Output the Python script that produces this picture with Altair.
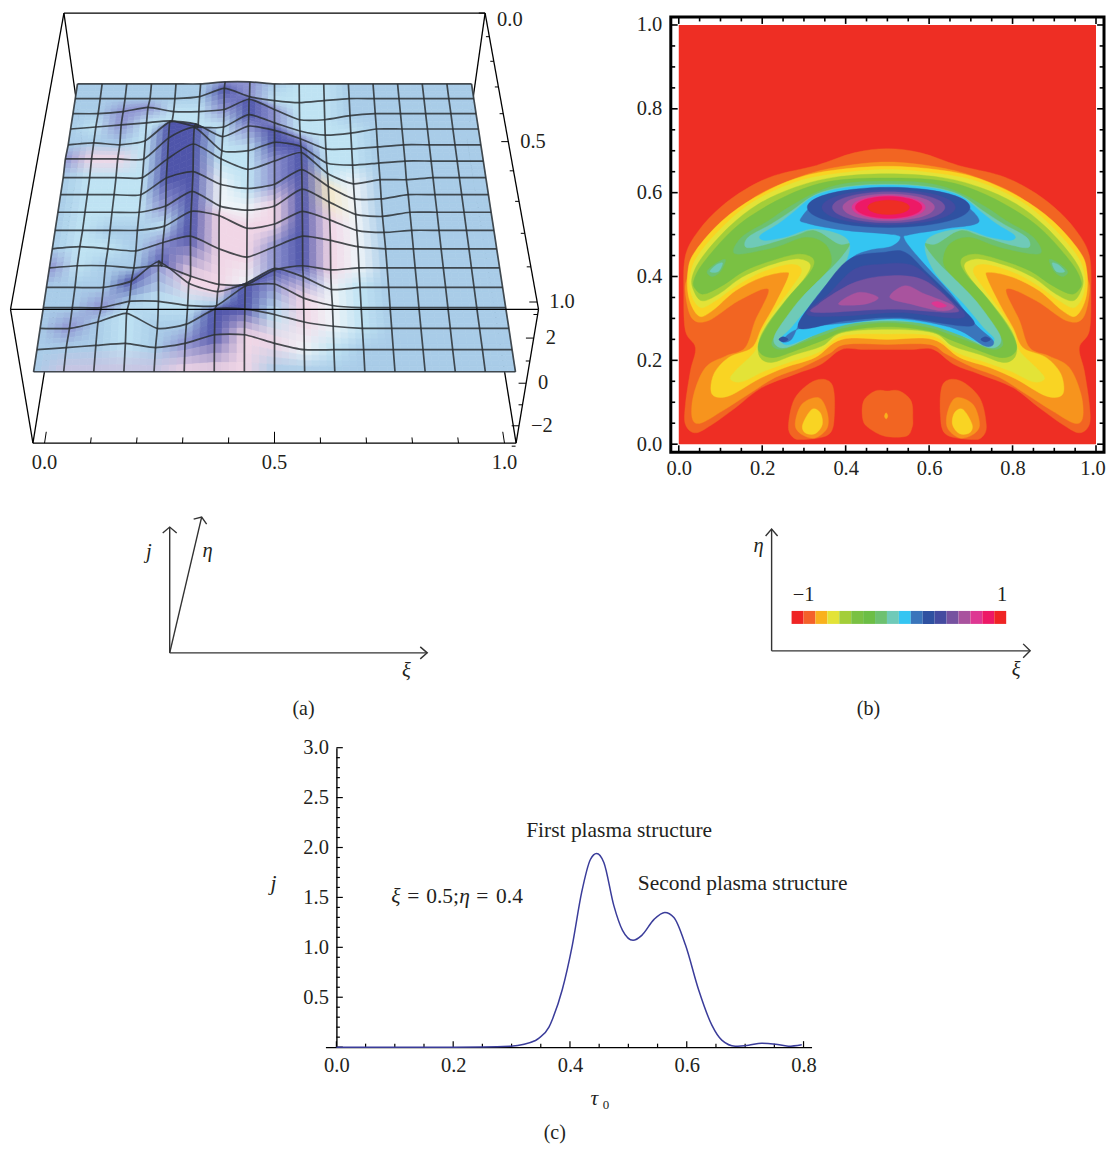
import numpy as np
import pandas as pd
import altair as alt

alt.data_transformers.disable_max_rows()

FONT = "Liberation Serif"
INK = "#231F20"
FS = 20.5
FS_NOTE = 21.5
FS_CAP = 20

# ---------- panel (a): surface heights j, rows from back (eta=0 label) to front, 17 columns
J_ROWS = [
    [0,0,0,0,0,0,.1,.1,0,0,0,0,0,0,0,0,0],
    [0,0,0,0,0,.1,.5,.1,-.1,-.2,-.1,0,0,0,0,0,0],
    [0,0,.1,.3,.1,.1,.2,.7,.2,-.3,-.3,-.1,0,0,0,0,0],
    [0,.1,.2,.3,.4,.1,.1,.7,.3,-.1,-.3,-.2,0,0,0,0,0],
    [0,.1,0,.2,1.1,1.0,.4,.9,.7,.3,-.2,-.2,-.1,0,0,0,0],
    [.1,.1,.1,.1,1.1,1.6,.5,.5,.9,.7,-.1,-.2,-.1,0,0,0,0],
    [0,0,0,0,.9,1.6,.9,.4,.8,1.2,.2,-.3,-.1,-.1,0,0,0],
    [0,0,0,0,.8,1.1,.5,.3,.5,1.2,.4,-.2,-.2,0,0,0,0],
    [0,0,0,0,.3,1.0,.3,.1,.3,1.1,.5,-.1,-.2,0,0,0,0],
    [0,0,0,0,.2,.9,.7,.1,.3,.9,.5,0,-.1,0,0,0,0],
    [0,.1,0,-.1,.3,.6,0,-.4,.1,.6,.4,.1,0,0,0,0,0],
    [0,.1,.1,0,.1,-.4,-.8,-.8,-.1,.1,-.1,0,0,0,0,0,0],
    [0,0,0,.3,1.2,.2,-.2,.2,.9,.5,-.1,0,0,0,0,0,0],
    [0,0,0,.3,.3,.1,.1,1.0,1.1,.45,.1,0,0,0,0,0,0],
    [0,0,.3,.7,0,.2,.9,.9,.65,.3,.1,0,0,0,0,0,0],
    [0,.1,.2,.3,.1,.3,.7,.7,.3,0,0,0,0,0,0,0,0],
    [0,0,0,0,0,0,0,0,0,0,0,0,0,0,0,0,0],
]
SHADE_ROWS = [
    "BBBBBBMMBCCBBBBBB",
    "BBBBBBDMCCCBBBBBB",
    "BBMMCCMDMCCBBBBBB",
    "BCMCCCCDMCCCBBBBB",
    "BBBCDDCMDMCCBBBBB",
    "MPPCDDCCDDCCBBBBB",
    "BCCCDDCCMDCWBBBBB",
    "BCCCDDWCMDYWBBBBB",
    "BCCCMDWWPDYWBBBBB",
    "BCBBCDPPPDPWBBBBB",
    "BCCBMDPPMDPWBBBBB",
    "MCBBDPPWMDPWBBBBB",
    "BBBDMPPDDMWCBBBBB",
    "BBMBCCBDMPWCBBBBB",
    "BMBCBBDDCPWCBBBBB",
    "BBBCBMDPPWCBBBBBB",
    "BLLLLPPPBBBBBBBBB",
]
SHADES = {"B": "#A9CCE8", "C": "#BFE3F3", "M": "#8E93D0", "D": "#4F55AA",
          "P": "#F1D6E6", "W": "#EFF4F8", "Y": "#F3E7C9", "L": "#C9C4E2"}
A_XI_LABELS = [0.0, 0.5, 1.0]
A_ETA_LABELS = [0.0, 0.5, 1.0]
A_J_LABELS = [-2, 0, 2]

# ---------- panel (b): filled contour outlines (xi, eta); left halves are mirrored about xi = 0.5
RED = "#EE2E24"
HALF_LEVELS = [
 ("#F26522", [(.5,.705),(.42,.695),(.33,.665),(.23,.641),(.16,.608),(.10,.565),(.048,.51),(.016,.45),(.012,.36),(.016,.27),(.04,.23),(.028,.175),(.016,.095),(.016,.047),(.04,.027),(.08,.047),(.136,.087),(.199,.135),(.279,.167),(.34,.19),(.39,.226),(.44,.226),(.5,.226)]),
 ("#F7941D", [(.5,.673),(.375,.66),(.279,.634),(.183,.59),(.12,.53),(.056,.46),(.022,.40),(.016,.36),(.032,.30),(.072,.295),(.143,.342),(.215,.37),(.183,.294),(.159,.23),(.112,.21),(.064,.183),(.036,.119),(.032,.063),(.052,.05),(.104,.079),(.167,.119),(.231,.159),(.295,.183),(.359,.215),(.399,.238),(.5,.238)]),
 ("#F9D423", [(.5,.663),(.375,.654),(.279,.633),(.183,.589),(.104,.533),(.04,.461),(.022,.414),(.024,.35),(.048,.306),(.08,.318),(.136,.366),(.199,.398),(.255,.41),(.262,.398),(.231,.334),(.199,.278),(.175,.23),(.12,.207),(.084,.167),(.08,.119),(.12,.115),(.191,.155),(.255,.183),(.327,.207),(.391,.25),(.5,.25)]),
 ("#E3E337", [(.5,.655),(.375,.645),(.279,.625),(.183,.581),(.112,.525),(.048,.453),(.028,.405),(.03,.358),(.052,.326),(.088,.342),(.143,.381),(.207,.414),(.271,.43),(.295,.414),(.271,.374),(.223,.31),(.195,.262),(.183,.222),(.136,.175),(.124,.155),(.151,.149),(.207,.175),(.263,.195),(.335,.219),(.391,.258),(.5,.263)]),
 ("#A3CE39", [(.5,.645),(.375,.637),(.279,.613),(.191,.573),(.12,.518),(.056,.446),(.032,.398),(.036,.366),(.056,.342),(.096,.358),(.151,.398),(.215,.426),(.279,.442),(.315,.43),(.303,.398),(.255,.342),(.207,.278),(.191,.238),(.195,.207),(.223,.195),(.279,.214),(.343,.234),(.391,.266),(.5,.274)]),
 ("#7AC143", [(.5,.635),(.375,.629),(.287,.605),(.199,.561),(.128,.51),(.06,.434),(.036,.39),(.04,.37),(.06,.358),(.104,.378),(.159,.414),(.223,.438),(.287,.454),(.323,.442),(.315,.41),(.263,.35),(.215,.286),(.191,.238),(.199,.214),(.231,.207),(.287,.226),(.351,.25),(.399,.27),(.5,.28)]),
 ("#6DC170", [(.5,.627),(.399,.622),(.327,.6),(.263,.565),(.215,.533),(.151,.494),(.136,.454),(.231,.47),(.303,.494),(.351,.478),(.367,.438),(.351,.406),(.303,.358),(.287,.326),(.239,.27),(.223,.238),(.247,.226),(.295,.242),(.351,.262),(.399,.278),(.5,.29)]),
 ("#6FCAB8", [(.5,.62),(.399,.614),(.327,.595),(.271,.557),(.223,.526),(.167,.494),(.161,.47),(.199,.474),(.279,.498),(.327,.51),(.383,.478),(.411,.478),(.383,.438),(.343,.398),(.295,.35),(.263,.31),(.231,.262),(.231,.238),(.255,.23),(.303,.25),(.359,.278),(.423,.29),(.5,.294)]),
 ("#34C5F2", [(.5,.618),(.399,.612),(.327,.593),(.279,.557),(.239,.526),(.195,.498),(.207,.486),(.255,.494),(.327,.514),(.407,.486),(.39,.414),(.318,.335),(.27,.278),(.244,.251),(.263,.237),(.32,.258),(.40,.285),(.5,.297)]),
]
LOBE_HALF_SHAPES = [
 ("#F26522", [(.263,.047),(.279,.111),(.327,.152),(.367,.143),(.373,.071),(.359,.023),(.295,.011),(.271,.019)]),
 ("#F7941D", [(.279,.047),(.295,.095),(.335,.111),(.355,.079),(.356,.039),(.327,.015),(.295,.023)]),
 ("#F9D423", [(.297,.047),(.319,.083),(.339,.075),(.344,.047),(.327,.025),(.303,.027)]),
 ("#6DC170", [(.068,.412),(.09,.432),(.112,.44),(.10,.412),(.08,.40)]),
 ("#6FCAB8", [(.075,.412),(.09,.428),(.105,.432),(.095,.412)]),
]
CENTER_LOBE = [(.5,.127),(.471,.127),(.443,.103),(.441,.06),(.455,.039),(.494,.019),(.545,.019),(.559,.039),(.561,.06),(.557,.103),(.529,.127)]
CENTER_DOT = [(.497,.075),(.493,.067),(.497,.06),(.501,.067)]
BLUE_MAIN = [(.294,.541),(.36,.595),(.502,.61),(.64,.597),(.72,.533),(.639,.514),(.555,.5),(.541,.489),(.581,.438),(.653,.359),(.71,.287),(.754,.246),(.734,.234),(.663,.275),(.531,.299),(.40,.289),(.287,.275),(.248,.246),(.27,.25),(.292,.294),(.328,.349),(.407,.438),(.455,.462),(.507,.471),(.53,.489),(.515,.5),(.40,.51),(.311,.526)]
LOWER_LEVELS = [
 ("#2F51A1", [(.494,.458),(.41,.442),(.343,.366),(.287,.278),(.398,.294),(.53,.302),(.701,.282),(.67,.334),(.59,.414),(.542,.458)]),
 ("#444BA0", [(.494,.43),(.422,.418),(.359,.358),(.307,.31),(.398,.306),(.53,.314),(.682,.302),(.638,.358),(.582,.414),(.546,.43)]),
 ("#7652A0", [(.51,.402),(.422,.386),(.335,.334),(.331,.314),(.51,.322),(.654,.314),(.662,.33),(.59,.39)]),
 ("#A9539E", [(.383,.334),(.43,.362),(.478,.35),(.446,.334)]),
 ("#A9539E", [(.506,.35),(.542,.378),(.59,.358),(.658,.33),(.63,.318),(.558,.334)]),
 ("#DE3792", [(.606,.336),(.622,.34),(.642,.33),(.622,.326)]),
 ("#2F51A1", [(.24,.25),(.25,.256),(.262,.25),(.25,.244)]),
 ("#2F51A1", [(.724,.25),(.735,.256),(.747,.25),(.735,.244)]),
]
# concentric top dome levels: colour, half width, half height
DOME_CENTER = (.503, .565)
DOME_LEVELS = [("#2F51A1",.195,.048),("#444BA0",.16,.042),("#7652A0",.135,.037),("#A9539E",.11,.032),
               ("#DE3792",.088,.028),("#ED1966",.08,.026),(RED,.05,.017)]
BAR_COLORS = ["#EF2424","#F4612A","#F9B11D","#E3E337","#A3CE39","#7AC143","#6CBE45","#6DC170","#6FCAB8",
              "#34C5F2","#3A75BB","#2F51A1","#444BA0","#7652A0","#A9539E","#DE3792","#ED1966","#EF2424"]
B_TICKS = [0.0, 0.2, 0.4, 0.6, 0.8, 1.0]

# ---------- panel (c)
TAU = [0,.1,.2,.25,.2986,.341,.347,.364,.37,.387,.404,.42,.435,.4456,.458,.475,.49,.508,.523,.544,.5625,.578,.598,.62,.643,.66,.683,.706,.728,.752,.774,.797]
CUR = [0,0,0,.001,.01,.067,.09,.2,.28,.58,1.02,1.55,1.88,1.94,1.85,1.42,1.17,1.07,1.12,1.28,1.35,1.30,1.02,.58,.22,.07,.01,.02,.04,.03,.01,.025]
C_X_TICKS = [0.0, 0.2, 0.4, 0.6, 0.8]
C_Y_TICKS = [0.5, 1.0, 1.5, 2.0, 2.5, 3.0]

base_text = dict(font=FONT, fontSize=FS, color=INK)

# ---------------------------------------------------------------- projection for panel (a)
def proj(xb, eb, t):
    H = 1.0 / (.004132 + .001049 * eb - .000351 * t - .00009 * eb * t)
    return 275 + (2 * xb - 1) * H, H * (1.83 - 1.111 * eb - .662 * t)

def surf(c, r, z):
    eta = (16 - r) / 16
    return proj(.5 + (c / 16 - .5) * (.96 + .015 * eta), .02 + .96 * eta, .5 + .16 * z)

J = np.array(J_ROWS, dtype=float)
def hex2(c):
    return np.array([int(c[i:i + 2], 16) for i in (1, 3, 5)], dtype=float)
CM = np.array([[hex2(SHADES[ch]) for ch in row] for row in SHADE_ROWS])

def bil(A, r, c):
    r0, c0 = min(int(r), 15), min(int(c), 15)
    fr, fc = r - r0, c - c0
    return (A[r0, c0] * (1 - fr) * (1 - fc) + A[r0, c0 + 1] * (1 - fr) * fc +
            A[r0 + 1, c0] * fr * (1 - fc) + A[r0 + 1, c0 + 1] * fr * fc)

N = 4
quads, pid = [], 0
for r in range(16):
    for sr in range(N):
        for c in range(16):
            for sc in range(N):
                r0, r1 = r + sr / N, r + (sr + 1) / N
                c0, c1 = c + sc / N, c + (sc + 1) / N
                col = bil(CM, (r0 + r1) / 2, (c0 + c1) / 2)
                hx = "#%02X%02X%02X" % tuple(int(round(v)) for v in col)
                for k, (rr, cc) in enumerate([(r0, c0), (r0, c1), (r1, c1), (r1, c0)]):
                    x, y = surf(cc, rr, bil(J, rr, cc))
                    quads.append((pid, k, round(x, 1), round(y, 1), hx))
                pid += 1
quad_df = pd.DataFrame(quads, columns=["p", "k", "x", "y", "c"])

grid = []
gid = 0
for r in range(17):
    for c in range(17):
        x, y = surf(c, r, J[r, c])
        grid.append((gid, c, round(x, 1), round(y, 1)))
    gid += 1
for c in range(17):
    for r in range(17):
        x, y = surf(c, r, J[r, c])
        grid.append((gid, r, round(x, 1), round(y, 1)))
    gid += 1
grid_df = pd.DataFrame(grid, columns=["p", "k", "x", "y"])

def segs(list3d):
    rows = []
    for a, b in list3d:
        x, y = proj(*a)
        x2, y2 = proj(*b)
        rows.append(dict(x=x, y=y, x2=x2, y2=y2))
    return pd.DataFrame(rows)

box_back = segs([((0,1,1),(0,1,0)), ((1,1,1),(1,1,0)), ((0,0,0),(0,1,0)), ((1,0,0),(1,1,0))])
box_front = segs([((0,1,1),(1,1,1)), ((0,1,1),(0,0,1)), ((1,1,1),(1,0,1)), ((0,0,1),(1,0,1)),
                  ((0,0,1),(0,0,0)), ((1,0,1),(1,0,0)), ((0,0,0),(1,0,0))])

ticks3d = []
for i in range(11):
    v = i / 10
    xb = .024 + .952 * v
    ln = .03 if i % 5 == 0 else .015
    ticks3d.append(((xb, 0, 0), (xb, ln, 0)))
    eb = .02 + .98 * (1 - v)
    dl = .015 if i % 5 == 0 else .008
    ticks3d.append(((1, eb, 1), (1 - dl, eb, 1)))
for j in range(-3, 4):
    t = .47 + .165 * j
    dl = .015 if j % 2 == 0 else .008
    ticks3d.append(((1, 0, t), (1 - dl, 0, t)))
a_ticks = segs(ticks3d)

xi_lab = []
for v in A_XI_LABELS:
    x, y = proj(.024 + .952 * v, 0, 0)
    xi_lab.append(dict(x=x, y=y, s=f"{v:.1f}"))
eta_lab, eta_top = [], []
for v in A_ETA_LABELS:
    x, y = proj(1, .02 + .98 * (1 - v), 1)
    (eta_top if v == 0 else eta_lab).append(dict(x=x, y=y, s=f"{v:.1f}"))
for j in A_J_LABELS:
    x, y = proj(1, 0, .47 + .165 * j)
    eta_lab.append(dict(x=x, y=y, s=str(j).replace("-", "\u2212")))

A_W = 664
XA = alt.X("x:Q", scale=alt.Scale(domain=[8, 8 + A_W], nice=False, zero=False), axis=None)
YA = alt.Y("y:Q", scale=alt.Scale(domain=[748, 8], nice=False, zero=False), axis=None)

def rule_layer(df, color="black", width=1.3, opacity=1):
    return alt.Chart(df).mark_rule(color=color, strokeWidth=width, opacity=opacity).encode(
        x=XA, y=YA, x2="x2:Q", y2="y2:Q")

def arrows(paths):
    rows = []
    for i, pts in enumerate(paths):
        for k, (x, y) in enumerate(pts):
            rows.append(dict(p=i, k=k, x=x, y=y))
    return pd.DataFrame(rows)

def text_layer(rows, X, Y, **kw):
    params = dict(base_text)
    params.update(kw)
    return alt.Chart(pd.DataFrame(rows)).mark_text(**params).encode(x=X, y=Y, text="s:N")

A_ARROWS = [
    [(170,653),(170,527)], [(163,533),(170,527),(177,533)],
    [(170,653),(202,517)], [(194,519),(202,517),(207,524)],
    [(170,653),(428,653)], [(421,647),(428,653),(421,659)],
]
arrow_a = alt.Chart(arrows(A_ARROWS)).mark_line(color="#333333", strokeWidth=1.4).encode(
    x=XA, y=YA, detail="p:N", order="k:Q")

panel_a = alt.layer(
    rule_layer(box_back),
    alt.Chart(quad_df).mark_line(interpolate="linear-closed", strokeWidth=0.7).encode(
        x=XA, y=YA, detail="p:N", order="k:Q",
        fill=alt.Fill("c:N", scale=None), stroke=alt.Stroke("c:N", scale=None)),
    alt.Chart(grid_df).mark_line(interpolate="cardinal", tension=0.4, color="#2B3034",
                                 strokeWidth=1.7, opacity=0.85).encode(
        x=XA, y=YA, detail="p:N", order="k:Q"),
    rule_layer(box_front),
    rule_layer(a_ticks, width=1),
    text_layer(xi_lab, XA, YA, align="center", baseline="middle", dy=20),
    text_layer(eta_lab, XA, YA, align="left", baseline="middle", dx=12),
    text_layer(eta_top, XA, YA, align="left", baseline="middle", dx=12, dy=7),
    arrow_a,
    text_layer([dict(x=149, y=552, s="j"), dict(x=208, y=551, s="\u03b7"), dict(x=407, y=671, s="\u03be")],
               XA, YA, align="center", baseline="middle", fontStyle="italic"),
    text_layer([dict(x=304, y=709, s="(a)")], XA, YA, align="center", baseline="middle", fontSize=FS_CAP),
).properties(width=A_W, height=740)

# ---------------------------------------------------------------- panel (b)
rows_b = []
def add(color, pts):
    p = add.n
    add.n += 1
    for k, (x, y) in enumerate(pts):
        rows_b.append(dict(p=p, k=k, x=x, y=y, c=color))
add.n = 0

def mirrored(pts):
    return list(pts) + [(1 - x, y) for x, y in reversed(pts) if abs(x - .5) > 1e-6]

def ellipse(cx, cy, rx, ry, n=14):
    return [(cx + rx * np.cos(2 * np.pi * i / n), cy + ry * np.sin(2 * np.pi * i / n)) for i in range(n)]

for col, pts in LOBE_HALF_SHAPES[:3]:
    add(col, pts)
    add(col, [(1 - x, y) for x, y in pts])
add("#F26522", CENTER_LOBE)
add("#F9B11D", CENTER_DOT)
for col, pts in HALF_LEVELS:
    add(col, mirrored(pts))
    if col == "#6DC170":
        add(col, LOBE_HALF_SHAPES[3][1])
        add(col, [(1 - x, y) for x, y in LOBE_HALF_SHAPES[3][1]])
    if col == "#6FCAB8":
        add(col, LOBE_HALF_SHAPES[4][1])
        add(col, [(1 - x, y) for x, y in LOBE_HALF_SHAPES[4][1]])
add("#3A75BB", BLUE_MAIN)
for col, pts in LOWER_LEVELS:
    add(col, pts)
for col, rx, ry in DOME_LEVELS:
    add(col, ellipse(DOME_CENTER[0], DOME_CENTER[1], rx, ry))
poly_df = pd.DataFrame(rows_b)

B_W = 434
BX = [-.0191, -.0191 + B_W / 418]
BY = [-.0192, 1.019]
XB = alt.X("x:Q", scale=alt.Scale(domain=BX, nice=False, zero=False),
           axis=alt.Axis(values=B_TICKS[:-1], format=".1f", domain=False, ticks=False, grid=False, title=None,
                         labelFont=FONT, labelFontSize=FS, labelColor=INK, labelPadding=6))
YB = alt.Y("y:Q", scale=alt.Scale(domain=BY, nice=False, zero=False),
           axis=alt.Axis(values=B_TICKS, format=".1f", domain=False, ticks=False, grid=False, title=None,
                         labelFont=FONT, labelFontSize=FS, labelColor=INK, labelPadding=9))

btick = []
for i in range(21):
    v = i * .05
    ln = .0165 if i % 4 == 0 else .0105
    btick += [dict(x=v, x2=v, y=BY[0], y2=BY[0] + ln), dict(x=v, x2=v, y=BY[1], y2=BY[1] - ln),
              dict(x=BX[0], x2=BX[0] + ln, y=v, y2=v), dict(x=BX[1], x2=BX[1] - ln, y=v, y2=v)]
btick_df = pd.DataFrame(btick)

panel_b = alt.layer(
    alt.Chart(pd.DataFrame([dict(x=0, x2=1, y=0, y2=1)])).mark_rect(color=RED).encode(x=XB, y=YB, x2="x2:Q", y2="y2:Q"),
    alt.Chart(poly_df).mark_line(interpolate="cardinal-closed", strokeWidth=0.4).encode(
        x=XB, y=YB, detail="p:N", order="k:Q",
        fill=alt.Fill("c:N", scale=None), stroke=alt.Stroke("c:N", scale=None)),
    alt.Chart(btick_df).mark_rule(color="black", strokeWidth=1.6).encode(x=XB, y=YB, x2="x2:Q", y2="y2:Q"),
    text_layer([dict(x=1.0, y=BY[0], s="1.0")], XB, YB, align="center", baseline="middle", dx=-3, dy=17),
).properties(width=B_W, height=436, view=alt.ViewConfig(stroke="black", strokeWidth=3, fill=None))

# legend strip under panel (b), same page-like coordinates
XL = alt.X("x:Q", scale=alt.Scale(domain=[672, 672 + B_W], nice=False, zero=False), axis=None)
YL = alt.Y("y:Q", scale=alt.Scale(domain=[748, 452], nice=False, zero=False), axis=None)
BW = (1008 - 793) / len(BAR_COLORS)
bar_df = pd.DataFrame([dict(x=793 + i * BW, x2=793 + (i + 1) * BW, y=611, y2=624, c=c) for i, c in enumerate(BAR_COLORS)])
B_ARROWS = [
    [(773,651),(773,529)], [(767,536),(773,529),(779,536)],
    [(773,651),(1032,651)], [(1025,644),(1032,651),(1025,658)],
]
panel_l = alt.layer(
    alt.Chart(bar_df).mark_rect().encode(x=XL, y=YL, x2="x2:Q", y2="y2:Q", color=alt.Color("c:N", scale=None)),
    alt.Chart(arrows(B_ARROWS)).mark_line(color="#333333", strokeWidth=1.4).encode(x=XL, y=YL, detail="p:N", order="k:Q"),
    text_layer([dict(x=760, y=546, s="\u03b7"), dict(x=1018, y=670, s="\u03be")], XL, YL,
               align="center", baseline="middle", fontStyle="italic"),
    text_layer([dict(x=805, y=595, s="\u22121"), dict(x=1004, y=595, s="1")], XL, YL, align="center", baseline="middle"),
    text_layer([dict(x=870, y=709, s="(b)")], XL, YL, align="center", baseline="middle", fontSize=FS_CAP),
).properties(width=B_W, height=296)

# ---------------------------------------------------------------- panel (c)
CX = [-.0188, .8137]
CY = [0, 3]
XC = alt.X("x:Q", scale=alt.Scale(domain=CX, nice=False, zero=False),
           axis=alt.Axis(values=C_X_TICKS, format=".1f", ticks=False, grid=False, title=None, domainColor="black",
                         domainWidth=1.4, labelFont=FONT, labelFontSize=FS, labelColor=INK, labelPadding=8))
YC = alt.Y("y:Q", scale=alt.Scale(domain=CY, nice=False, zero=False),
           axis=alt.Axis(values=C_Y_TICKS, format=".1f", ticks=False, grid=False, title=None, domainColor="black",
                         domainWidth=1.4, offset=-11, labelFont=FONT, labelFontSize=FS, labelColor=INK, labelPadding=8))
ctick = []
for i in range(17):
    v = i * .05
    ctick.append(dict(x=v, x2=v, y=0, y2=.06 if i % 4 == 0 else .035))
for i in range(31):
    v = i * .1
    ctick.append(dict(x=0, x2=.011 if i % 5 == 0 else .006, y=v, y2=v))
ctick_df = pd.DataFrame(ctick)

curve_df = pd.DataFrame(dict(x=TAU, y=CUR))
panel_c = alt.layer(
    alt.Chart(ctick_df).mark_rule(color="black", strokeWidth=1.2).encode(x=XC, y=YC, x2="x2:Q", y2="y2:Q"),
    alt.Chart(curve_df).mark_line(color="#3A3C9A", strokeWidth=1.5, interpolate="monotone").encode(x=XC, y=YC),
    text_layer([dict(x=.325, y=2.17, s="First plasma structure"), dict(x=.516, y=1.63, s="Second plasma structure"),
                dict(x=.1214, y=1.5, s="="), dict(x=.1538, y=1.5, s="0.5;"), dict(x=.2393, y=1.5, s="="), dict(x=.2735, y=1.5, s="0.4")],
               XC, YC, align="left", baseline="middle", fontSize=FS_NOTE),
    text_layer([dict(x=.094, y=1.5, s="\u03be"), dict(x=.2103, y=1.5, s="\u03b7"), dict(x=-.113, y=1.63, s="j"), dict(x=.435, y=-.52, s="\u03c4")],
               XC, YC, align="left", baseline="middle", fontStyle="italic", fontSize=FS_NOTE),
    text_layer([dict(x=.456, y=-.58, s="0")], XC, YC, align="left", baseline="middle", fontSize=13),
    text_layer([dict(x=.374, y=-.86, s="(c)")], XC, YC, align="center", baseline="middle", fontSize=FS_CAP),
).properties(width=487, height=300)

def spacer(w, h):
    return alt.Chart(pd.DataFrame(dict(a=[0]))).mark_point(opacity=0, size=1).encode(
        x=alt.value(0.5), y=alt.value(0.5)).properties(width=w, height=h)

right_col = alt.vconcat(spacer(B_W, 8), panel_b, panel_l, spacing=0, bounds="flush")
top_row = alt.hconcat(panel_a, right_col, spacing=0, bounds="flush")
bottom_row = alt.hconcat(spacer(318, 300), panel_c, spacing=0, bounds="flush")
chart = alt.vconcat(top_row, bottom_row, spacing=-10).properties(padding=0).configure_view(stroke=None)

chart.save("out.html", embed_options={"renderer": "svg", "actions": False})
